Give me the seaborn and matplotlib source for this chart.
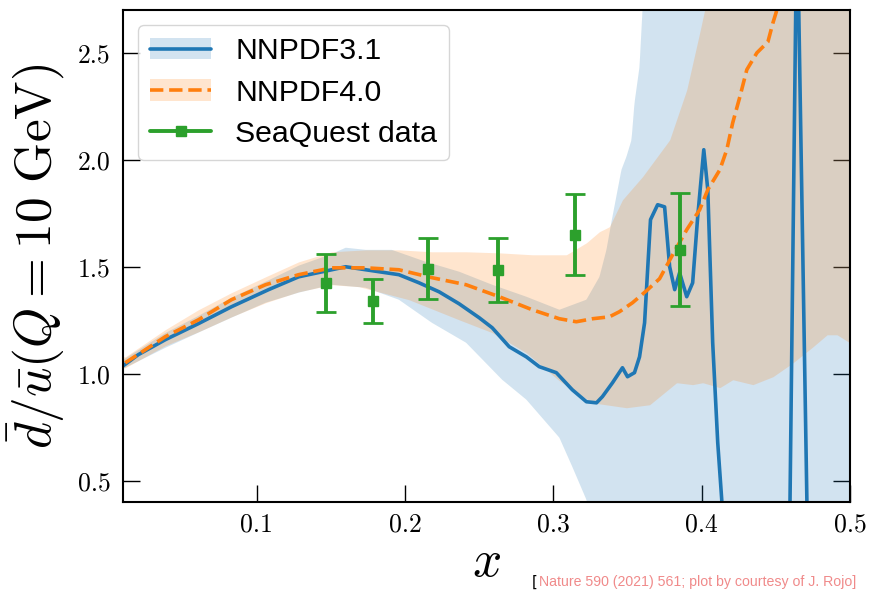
import matplotlib
matplotlib.use("Agg")
import matplotlib.pyplot as plt
import numpy as np
import pandas as pd
import seaborn as sns
from matplotlib.lines import Line2D
from matplotlib.patches import Patch

# --- data ----------------------------------------------------------------- #
X_31 = [0.0101, 0.0203, 0.0385, 0.0608, 0.0831, 0.1081, 0.1284, 0.1507, 0.1601,
        0.1736, 0.1959, 0.2095, 0.2230, 0.2365, 0.2500, 0.2588, 0.2703, 0.2818,
        0.2905, 0.3020, 0.3128, 0.3223, 0.3291, 0.3331, 0.3399, 0.3466, 0.3500,
        0.3547, 0.3581, 0.3615, 0.3655, 0.3703, 0.3750, 0.3784, 0.3818, 0.3851,
        0.3899, 0.3939, 0.3973, 0.4014, 0.4041, 0.4074, 0.4108, 0.4135, 0.4200,
        0.4500, 0.4550, 0.4595, 0.4642, 0.4709, 0.4750, 0.5000]
Y_31 = [1.037, 1.089, 1.159, 1.234, 1.313, 1.393, 1.453, 1.486, 1.500,
        1.486, 1.463, 1.425, 1.383, 1.327, 1.262, 1.215, 1.126, 1.079,
        1.033, 1.005, 0.925, 0.869, 0.864, 0.893, 0.958, 1.028, 0.986,
        1.005, 1.079, 1.238, 1.720, 1.790, 1.780, 1.500, 1.393, 1.472,
        1.360, 1.425, 1.734, 2.047, 1.860, 1.145, 0.678, 0.411, -0.800,
        -1.000, -1.000, 0.400, 3.200, 0.400, -1.000, -1.000]

X_31_HI = [0.0101, 0.0385, 0.0608, 0.0831, 0.1061, 0.1284, 0.1507, 0.1601, 0.1736,
           0.1912, 0.2142, 0.2365, 0.2588, 0.2818, 0.3041, 0.3223, 0.3311, 0.3358,
           0.3392, 0.3459, 0.3493, 0.3527, 0.3547, 0.3581, 0.3601, 0.3650, 0.4500,
           0.5000]
Y_31_HI = [1.065, 1.190, 1.270, 1.355, 1.430, 1.505, 1.560, 1.589, 1.579,
           1.579, 1.523, 1.477, 1.416, 1.360, 1.299, 1.346, 1.453, 1.579,
           1.710, 1.953, 2.015, 2.093, 2.265, 2.435, 2.701, 3.050, 3.500,
           3.500]
X_31_LO = [0.0101, 0.0385, 0.0608, 0.0831, 0.1061, 0.1284, 0.1507, 0.1736, 0.1959,
           0.2182, 0.2412, 0.2655, 0.2818, 0.3041, 0.3128, 0.3223, 0.3277, 0.3400,
           0.5000]
Y_31_LO = [1.023, 1.121, 1.192, 1.262, 1.332, 1.379, 1.416, 1.402, 1.346,
           1.238, 1.145, 0.972, 0.879, 0.701, 0.565, 0.411, 0.271, -1.000,
           -1.000]

X_40 = [0.0115, 0.0385, 0.0608, 0.0831, 0.1061, 0.1284, 0.1507, 0.1736, 0.1959,
        0.2182, 0.2412, 0.2635, 0.2858, 0.3041, 0.3155, 0.3264, 0.3378, 0.3446,
        0.3534, 0.3628, 0.3716, 0.3804, 0.3899, 0.3986, 0.4041, 0.4122, 0.4169,
        0.4209, 0.4257, 0.4304, 0.4372, 0.4446, 0.4480, 0.4507, 0.4561, 0.4750]
Y_40 = [1.051, 1.173, 1.252, 1.346, 1.416, 1.463, 1.495, 1.495, 1.486,
        1.449, 1.416, 1.360, 1.299, 1.257, 1.243, 1.257, 1.266, 1.290,
        1.332, 1.388, 1.444, 1.556, 1.673, 1.766, 1.860, 1.953, 2.047,
        2.173, 2.294, 2.421, 2.500, 2.551, 2.640, 2.701, 2.840, 3.300]

X_40_HI = [0.0115, 0.0385, 0.0608, 0.0831, 0.1061, 0.1284, 0.1507, 0.1736, 0.1959,
           0.2182, 0.2412, 0.2635, 0.2858, 0.3088, 0.3223, 0.3311, 0.3378, 0.3466,
           0.3601, 0.3784, 0.3899, 0.3986, 0.4020, 0.4088, 0.5000]
Y_40_HI = [1.079, 1.206, 1.299, 1.379, 1.453, 1.523, 1.570, 1.579, 1.579,
           1.570, 1.570, 1.565, 1.556, 1.556, 1.612, 1.664, 1.687, 1.813,
           1.921, 2.093, 2.327, 2.593, 2.701, 2.930, 3.500]
X_40_LO = [0.0115, 0.0385, 0.0608, 0.0831, 0.1061, 0.1284, 0.1507, 0.1689, 0.2027,
           0.2365, 0.2588, 0.2818, 0.3041, 0.3264, 0.3493, 0.3649, 0.3831, 0.3939,
           0.4007, 0.4122, 0.4209, 0.4345, 0.4480, 0.4615, 0.4750, 0.4845, 0.4912,
           0.4986, 0.5000]
Y_40_LO = [1.028, 1.131, 1.196, 1.266, 1.332, 1.383, 1.416, 1.407, 1.346,
           1.252, 1.192, 1.098, 0.967, 0.864, 0.841, 0.855, 0.958, 0.949,
           0.958, 0.935, 0.972, 0.949, 0.986, 1.051, 1.126, 1.182, 1.182,
           1.150, 1.145]

SQ_X = [0.1466, 0.1784, 0.2155, 0.2628, 0.3149, 0.3851]
SQ_Y = [1.425, 1.340, 1.490, 1.483, 1.650, 1.580]
SQ_ERR = [0.135, 0.105, 0.143, 0.150, 0.190, 0.263]

X_TICKS = [0.1, 0.2, 0.3, 0.4, 0.5]
Y_TICKS = [0.5, 1.0, 1.5, 2.0, 2.5]

C_31 = "#1f77b4"
C_40 = "#ff7f0e"
C_SQ = "#2ca02c"

sns.set_style("ticks")
plt.rcParams.update({
    "mathtext.fontset": "cm",
    "axes.unicode_minus": False,
    "text.color": "black",
    "axes.labelcolor": "black",
    "xtick.color": "black",
    "ytick.color": "black",
})

fig = plt.figure(figsize=(8.71, 5.90), dpi=100)
ax = fig.add_axes([0.1412, 0.149, 0.8348, 0.834])

grid = np.linspace(0.0, 0.5, 1001)
ax.fill_between(grid, np.interp(grid, X_31_LO, Y_31_LO), np.interp(grid, X_31_HI, Y_31_HI),
                color=C_31, alpha=0.2, linewidth=0)
ax.fill_between(grid, np.interp(grid, X_40_LO, Y_40_LO), np.interp(grid, X_40_HI, Y_40_HI),
                color=C_40, alpha=0.2, linewidth=0)

df31 = pd.DataFrame({"x": X_31, "y": Y_31})
df40 = pd.DataFrame({"x": X_40, "y": Y_40})
sns.lineplot(data=df31, x="x", y="y", ax=ax, color=C_31, lw=2.6, estimator=None, sort=False)
sns.lineplot(data=df40, x="x", y="y", ax=ax, color=C_40, lw=2.6, ls="--", estimator=None, sort=False)
ax.errorbar(SQ_X, SQ_Y, yerr=SQ_ERR, fmt="s", color=C_SQ, ms=7, elinewidth=2.8,
            capsize=7, capthick=2, zorder=5)

ax.set_xlim(0.01, 0.5)
ax.set_ylim(0.4, 2.7)
ax.set_xticks(X_TICKS)
ax.set_yticks(Y_TICKS)
ax.set_xticklabels([f"{v:.1f}" for v in X_TICKS], fontfamily="cmr10", fontsize=18.5)
ax.set_yticklabels([f"{v:.1f}" for v in Y_TICKS], fontfamily="cmr10", fontsize=18.5)
ax.tick_params(direction="in", length=12, width=1.0, color="black")
ax.tick_params(axis="x", pad=8)
ax.tick_params(axis="y", pad=9, right=True)
for s in ax.spines.values():
    s.set_linewidth(1.5)
    s.set_color("black")

ax.set_xlabel(r"$x$", fontsize=37, labelpad=0)
ax.set_ylabel(r"$\bar{d}/\bar{u}(Q = 10\ \mathrm{GeV})$", fontsize=37, labelpad=8)

handles = [
    (Patch(facecolor=C_31, alpha=0.2, linewidth=0), Line2D([], [], color=C_31, lw=2.6)),
    (Patch(facecolor=C_40, alpha=0.2, linewidth=0), Line2D([], [], color=C_40, lw=2.6, ls="--")),
    Line2D([], [], color=C_SQ, lw=2.8, marker="s", ms=7),
]
leg = ax.legend(handles, ["NNPDF3.1", "NNPDF4.0", "SeaQuest data"], loc="upper left",
                prop={"family": "Liberation Sans", "size": 21.8}, frameon=True, fancybox=True,
                framealpha=0.8, edgecolor="#cccccc", labelspacing=0.44, handletextpad=0.8)
for t in leg.get_texts():
    t.set_color("black")

fig.text(0.611, 0.026, "[", fontsize=10.5, color="black", va="top", family="DejaVu Sans")
fig.text(0.619, 0.026, "Nature 590 (2021) 561; plot by courtesy of J. Rojo]",
         fontsize=10.2, color="#f08a8a", va="top", family="Liberation Sans")

fig.savefig("out.png", dpi=100)
